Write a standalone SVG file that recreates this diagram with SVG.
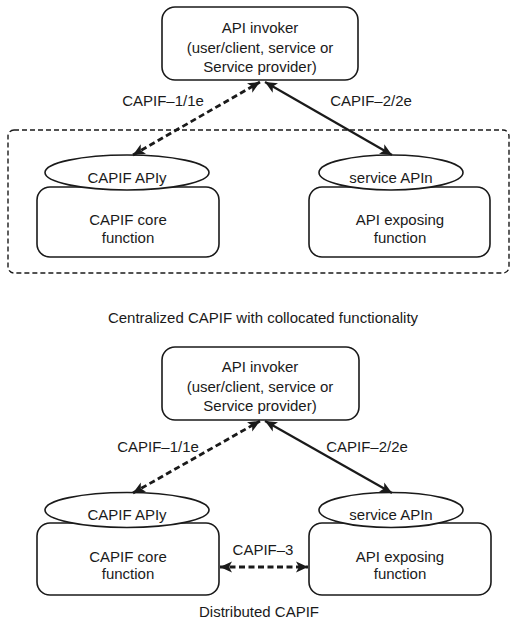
<svg xmlns="http://www.w3.org/2000/svg" width="510" height="621" viewBox="0 0 510 621">
<defs>
<style>
text{font-family:"Liberation Sans",Arial,sans-serif;font-size:15px;fill:#1a1a1a;text-anchor:middle}
.box{fill:#fff;stroke:#1a1a1a;stroke-width:1.6}
.ell{fill:#fff;stroke:#1a1a1a;stroke-width:1.6}
.group{fill:none;stroke:#1a1a1a;stroke-width:1.4;stroke-dasharray:5 3}
.dash{fill:none;stroke:#1a1a1a;stroke-width:2.8;stroke-dasharray:6 3.5}
.solid{fill:none;stroke:#1a1a1a;stroke-width:2.2}
</style>
<marker id="ah" viewBox="0 0 10 10" refX="10" refY="5" markerWidth="12" markerHeight="12" markerUnits="userSpaceOnUse" orient="auto-start-reverse">
<path d="M0,0.5 L10,5 L0,9.5 L2.5,5 Z" fill="#1a1a1a"/>
</marker>
</defs>

<!-- ===== Centralized ===== -->
<g id="group-centralized">
<rect class="group" x="8" y="130" width="501" height="143" rx="6"/>
</g>

<g id="invoker-top">
<rect class="box" x="162" y="7" width="196" height="73" rx="13"/>
<text x="260" y="33">API invoker</text>
<text x="260" y="53">(user/client, service or</text>
<text x="260" y="72">Service provider)</text>
</g>

<g id="core-top">
<rect class="box" x="37" y="187" width="182" height="70" rx="13"/>
<text x="128" y="225">CAPIF core</text>
<text x="128" y="243">function</text>
</g>
<g id="apiy-top">
<ellipse class="ell" cx="127" cy="172.5" rx="82" ry="17.5"/>
<text x="127" y="183">CAPIF APIy</text>
</g>

<g id="exposing-top">
<rect class="box" x="309" y="187" width="181" height="70" rx="13"/>
<text x="400" y="225">API exposing</text>
<text x="400" y="243">function</text>
</g>
<g id="apin-top">
<ellipse class="ell" cx="391" cy="172.5" rx="72" ry="17.5"/>
<text x="391" y="183">service APIn</text>
</g>

<g id="connectors-top">
<path class="dash" d="M133,155 L260,82" marker-start="url(#ah)" marker-end="url(#ah)"/>
<path class="solid" d="M265,82 L392,155" marker-start="url(#ah)" marker-end="url(#ah)"/>
<text x="163" y="106">CAPIF–1/1e</text>
<text x="371" y="106">CAPIF–2/2e</text>
</g>

<text x="263" y="323">Centralized CAPIF with collocated functionality</text>

<!-- ===== Distributed ===== -->
<g id="invoker-bottom">
<rect class="box" x="162" y="347" width="197" height="73" rx="13"/>
<text x="260" y="372">API invoker</text>
<text x="260" y="392">(user/client, service or</text>
<text x="260" y="411">Service provider)</text>
</g>

<g id="core-bottom">
<rect class="box" x="37" y="523" width="182" height="72" rx="13"/>
<text x="128" y="562">CAPIF core</text>
<text x="128" y="579">function</text>
</g>
<g id="apiy-bottom">
<ellipse class="ell" cx="127" cy="510" rx="82" ry="17.5"/>
<text x="127" y="520">CAPIF APIy</text>
</g>

<g id="exposing-bottom">
<rect class="box" x="309" y="523" width="182" height="72" rx="13"/>
<text x="400" y="562">API exposing</text>
<text x="400" y="579">function</text>
</g>
<g id="apin-bottom">
<ellipse class="ell" cx="391" cy="510" rx="72" ry="17.5"/>
<text x="391" y="520">service APIn</text>
</g>

<g id="connectors-bottom">
<path class="dash" d="M133,493 L260,421" marker-start="url(#ah)" marker-end="url(#ah)"/>
<path class="solid" d="M265,421 L392,493" marker-start="url(#ah)" marker-end="url(#ah)"/>
<path class="dash" d="M220,567 L308,567" marker-start="url(#ah)" marker-end="url(#ah)"/>
<text x="158" y="452">CAPIF–1/1e</text>
<text x="367" y="452">CAPIF–2/2e</text>
<text x="263" y="555">CAPIF–3</text>
</g>

<text x="259" y="617">Distributed CAPIF</text>
</svg>
